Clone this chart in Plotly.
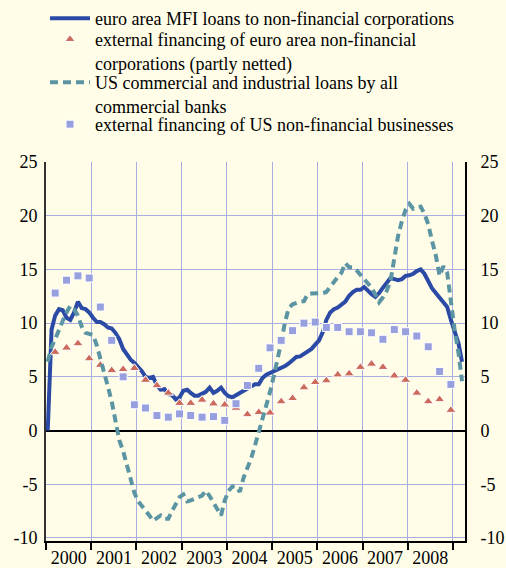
import plotly.graph_objects as go

# ---------------- data ----------------
n_months = 111  # Jan 2000 .. Mar 2009
months = [f"{2000 + m // 12}-{m % 12 + 1:02d}-15" for m in range(n_months)]
n_quarters = 36  # 2000Q1 .. 2008Q4
quarters = [f"{2000 + q // 4}-{3 * (q % 4) + 3:02d}-15" for q in range(n_quarters)]

euro_mfi_loans = [
    0.0, 9.4, 10.7, 11.3, 11.2, 10.5, 10.3, 11.0, 12.0, 11.4, 11.3, 11.0,
    10.5, 10.1, 10.1, 9.9, 9.6, 9.5, 9.1, 8.5, 7.6, 7.1, 6.6, 6.3,
    5.9, 5.5, 5.0, 4.9, 5.0, 4.2, 3.8, 3.85, 3.4, 3.3, 2.9, 3.1,
    3.7, 3.8, 3.5, 3.25, 3.25, 3.4, 3.6, 4.0, 3.5, 3.7, 4.0, 3.5,
    3.2, 3.1, 3.3, 3.5, 3.7, 3.9, 4.15, 4.3, 4.3, 4.9, 5.2, 5.35,
    5.6, 5.75, 5.8, 6.0, 6.25, 6.55, 6.85, 6.9, 7.1, 7.4, 7.6, 8.0,
    8.4, 9.2, 10.3, 11.0, 11.3, 11.45, 11.75, 12.0, 12.55, 12.9, 13.1, 13.1,
    13.35, 12.95, 12.7, 12.45, 12.8, 13.3, 13.7, 14.2, 14.1, 14.0, 14.1, 14.4,
    14.45, 14.6, 14.85, 15.0, 14.6, 13.9, 13.25, 12.8, 12.4, 12.0, 11.5, 10.3,
    9.25, 8.1, 6.4,
]

us_ci_loans = [
    6.4, 7.8, 8.5, 9.5, 10.2, 11.0, 11.6, 11.3, 10.7, 9.7, 9.1, 9.0,
    8.9, 7.9, 6.8, 5.6, 4.1, 2.7, 1.0, -0.9, -1.9, -3.1, -4.5, -5.8,
    -6.6, -7.0, -7.4, -7.9, -8.4, -8.1, -7.9, -8.2, -8.2, -7.5, -6.8, -6.2,
    -5.95, -6.6, -6.5, -6.3, -6.2, -6.05, -5.6, -6.1, -6.8, -7.3, -7.9, -6.5,
    -5.6, -5.2, -5.2, -5.7, -4.4, -3.6, -2.6, -1.4, -0.2, 1.1, 2.3, 3.6,
    5.1, 6.6, 8.2, 10.1, 11.4, 11.75, 11.9, 12.0, 12.05, 12.7, 12.75, 12.75,
    12.75, 12.8, 12.9, 13.4, 13.9, 14.3, 14.7, 15.6, 15.2, 15.2, 14.9, 14.5,
    14.0, 13.65, 13.3, 12.65, 11.95, 12.4, 13.0, 13.9, 16.0, 18.1, 19.5, 20.55,
    21.1, 20.65, 20.8, 20.85, 20.2, 19.2, 17.7, 16.3, 14.4, 15.3, 14.7, 11.9,
    9.3, 7.2, 4.6,
]

euro_external_financing = [
    7.3, 7.7, 8.1, 6.7, 6.1, 5.6, 5.7, 5.8, 4.7, 4.2, 3.5, 2.55,
    2.55, 2.85, 2.5, 2.4, 2.1, 1.5, 1.7, 1.65, 2.7, 3.0, 4.0, 4.5,
    4.65, 5.2, 5.3, 5.9, 6.2, 5.9, 5.1, 4.7, 3.5, 2.7, 2.9, 1.9,
]

us_external_financing = [
    12.8, 14.0, 14.4, 14.2, 11.5, 8.4, 5.0, 2.4, 2.1, 1.4, 1.25, 1.55,
    1.4, 1.25, 1.3, 0.95, 2.5, 4.2, 5.8, 7.7, 8.4, 9.3, 10.0, 10.1,
    9.6, 9.6, 9.2, 9.2, 9.1, 8.5, 9.4, 9.2, 8.8, 7.8, 5.5, 4.3,
]

y_ticks = [-10, -5, 0, 5, 10, 15, 20, 25]
y_tick_labels = ["-10", "-5", "0", "5", "10", "15", "20", "25"]

names = [
    "euro area MFI loans to non-financial corporations",
    "external financing of euro area non-financial<br>corporations (partly netted)",
    "US commercial and industrial loans by all<br>commercial banks",
    "external financing of US non-financial businesses",
]

# ---------------- styles ----------------
BG = "#FFFDE7"
GRID = "#A9AEE2"
FONT = "Liberation Serif, Times New Roman, serif"
FS = 18
W, H = 506, 568

fig = go.Figure()

fig.add_trace(go.Scatter(
    x=months, y=euro_mfi_loans, mode="lines", name=names[0], legend="legend",
    line=dict(color="#2A4AA6", width=4),
))
fig.add_trace(go.Scatter(
    x=quarters, y=euro_external_financing, mode="markers", name=names[1],
    legend="legend2",
    marker=dict(symbol="triangle-up", size=9, color="#CC6B5B",
                line=dict(color="white", width=1)),
))
fig.add_trace(go.Scatter(
    x=months, y=us_ci_loans, mode="lines", name=names[2], legend="legend3",
    line=dict(color="#5B95A3", width=4, dash="8px,5px"),
))
fig.add_trace(go.Scatter(
    x=quarters, y=us_external_financing, mode="markers", name=names[3],
    legend="legend4",
    marker=dict(symbol="square", size=8, color="#979FDE",
                line=dict(color="white", width=1)),
))
# invisible trace to activate right-hand axis
fig.add_trace(go.Scatter(
    x=[months[0]], y=[0], yaxis="y2", mode="markers",
    marker=dict(opacity=0), showlegend=False, hoverinfo="skip",
))

x_range = ["2000-01-01", "2009-04-08"]
y_range = [-10.28, 25]


def legend_at(top_px):
    return dict(
        xref="container", yref="container",
        x=45 / W, y=1 - top_px / H, xanchor="left", yanchor="top",
        bgcolor="rgba(0,0,0,0)", font=dict(family=FONT, size=FS),
        valign="top", itemwidth=40,
    )


fig.update_layout(
    width=W, height=H,
    paper_bgcolor=BG, plot_bgcolor=BG,
    margin=dict(l=46, r=41, t=162, b=27, autoexpand=False),
    font=dict(family=FONT, size=FS, color="black"),
    showlegend=True,
    legend=legend_at(0),
    legend2=legend_at(21),
    legend3=legend_at(64),
    legend4=legend_at(106),
    xaxis=dict(
        type="date", range=x_range,
        dtick="M12", tick0="2000-01-01", tickformat="%Y",
        ticklabelmode="period",
        showgrid=True, gridcolor=GRID, gridwidth=1,
        ticks="outside", ticklen=7, tickcolor="black", tickwidth=2,
        showline=True, linecolor="black", linewidth=2,
        zeroline=False,
        tickfont=dict(family=FONT, size=FS),
        ticklabelstandoff=-8,
    ),
    yaxis=dict(
        range=y_range, tickvals=y_ticks, ticktext=y_tick_labels,
        showgrid=True, gridcolor=GRID, gridwidth=1,
        zeroline=True, zerolinecolor="black", zerolinewidth=2,
        showline=True, linecolor="#333333", linewidth=2,
        ticks="", tickfont=dict(family=FONT, size=FS),
        ticklabelstandoff=3,
    ),
    yaxis2=dict(
        range=y_range, tickvals=y_ticks, ticktext=y_tick_labels,
        overlaying="y", side="right",
        showgrid=False, zeroline=False,
        showline=True, linecolor="black", linewidth=2,
        ticks="", tickfont=dict(family=FONT, size=FS),
        ticklabelstandoff=10,
    ),
)

fig.write_html(
    "out.html",
    config={"displayModeBar": False},
    post_script="document.body.style.margin='0';",
)
